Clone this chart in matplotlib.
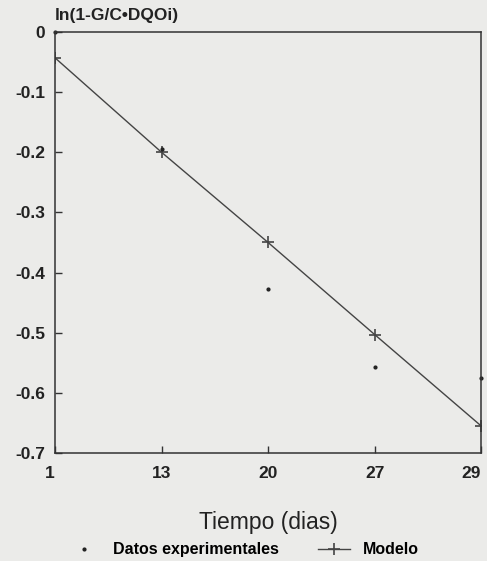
import matplotlib.pyplot as plt

# Data
dias = ['1', '13', '20', '27', '29']
modelo = [-0.043, -0.200, -0.350, -0.503, -0.655]
experimental = [0.0, -0.195, -0.427, -0.557, -0.576]

plt.rcParams['font.family'] = ['Liberation Sans', 'DejaVu Sans']

fig = plt.figure(figsize=(4.87, 5.61), dpi=100, facecolor='#ebebe9')
ax = fig.add_axes([0.113, 0.1925, 0.875, 0.7505])
ax.set_facecolor('#ebebe9')

pos = list(range(len(dias)))
ax.plot(pos, modelo, color='#444444', lw=1.0, marker='+', ms=9, mew=1.2,
        label='Modelo')
ax.plot(pos, experimental, ls='none', marker='.', ms=4, color='#222222',
        label='Datos experimentales', clip_on=False)

ax.set_xlim(0, 4)
ax.set_ylim(-0.7, 0)
ax.set_xticks(pos)
ax.set_xticklabels(dias)
ax.set_yticks([0, -0.1, -0.2, -0.3, -0.4, -0.5, -0.6, -0.7])
ax.set_yticklabels(['0', '-0.1', '-0.2', '-0.3', '-0.4', '-0.5', '-0.6', '-0.7'])
ax.tick_params(direction='in', length=5, width=1, colors='#333333',
               labelsize=12.5, pad=7)
ax.tick_params(axis='x', pad=9)
for lab in ax.get_xticklabels() + ax.get_yticklabels():
    lab.set_fontweight('bold')
    lab.set_color('#222222')
# keep the last day label inside the picture
ax.get_xticklabels()[-1].set_horizontalalignment('right')
ax.get_xticklabels()[0].set_horizontalalignment('right')
for s in ax.spines.values():
    s.set_color('#333333')
    s.set_linewidth(1.1)

ax.set_xlabel('Tiempo (dias)', fontsize=16.5, color='#222222', labelpad=22)
fig.text(0.113, 0.972, 'ln(1-G/C\u2022DQOi)', fontsize=12.5, fontweight='bold',
         color='#222222', ha='left', va='center')

handles, labels = ax.get_legend_handles_labels()
fig.legend(handles[::-1], labels[::-1], loc='center', bbox_to_anchor=(0.5, 0.02),
           ncol=2, frameon=False, handlelength=2.0, columnspacing=2.5,
           prop={'weight': 'bold', 'size': 11.5})

fig.savefig('out.png', dpi=100, facecolor=fig.get_facecolor())
